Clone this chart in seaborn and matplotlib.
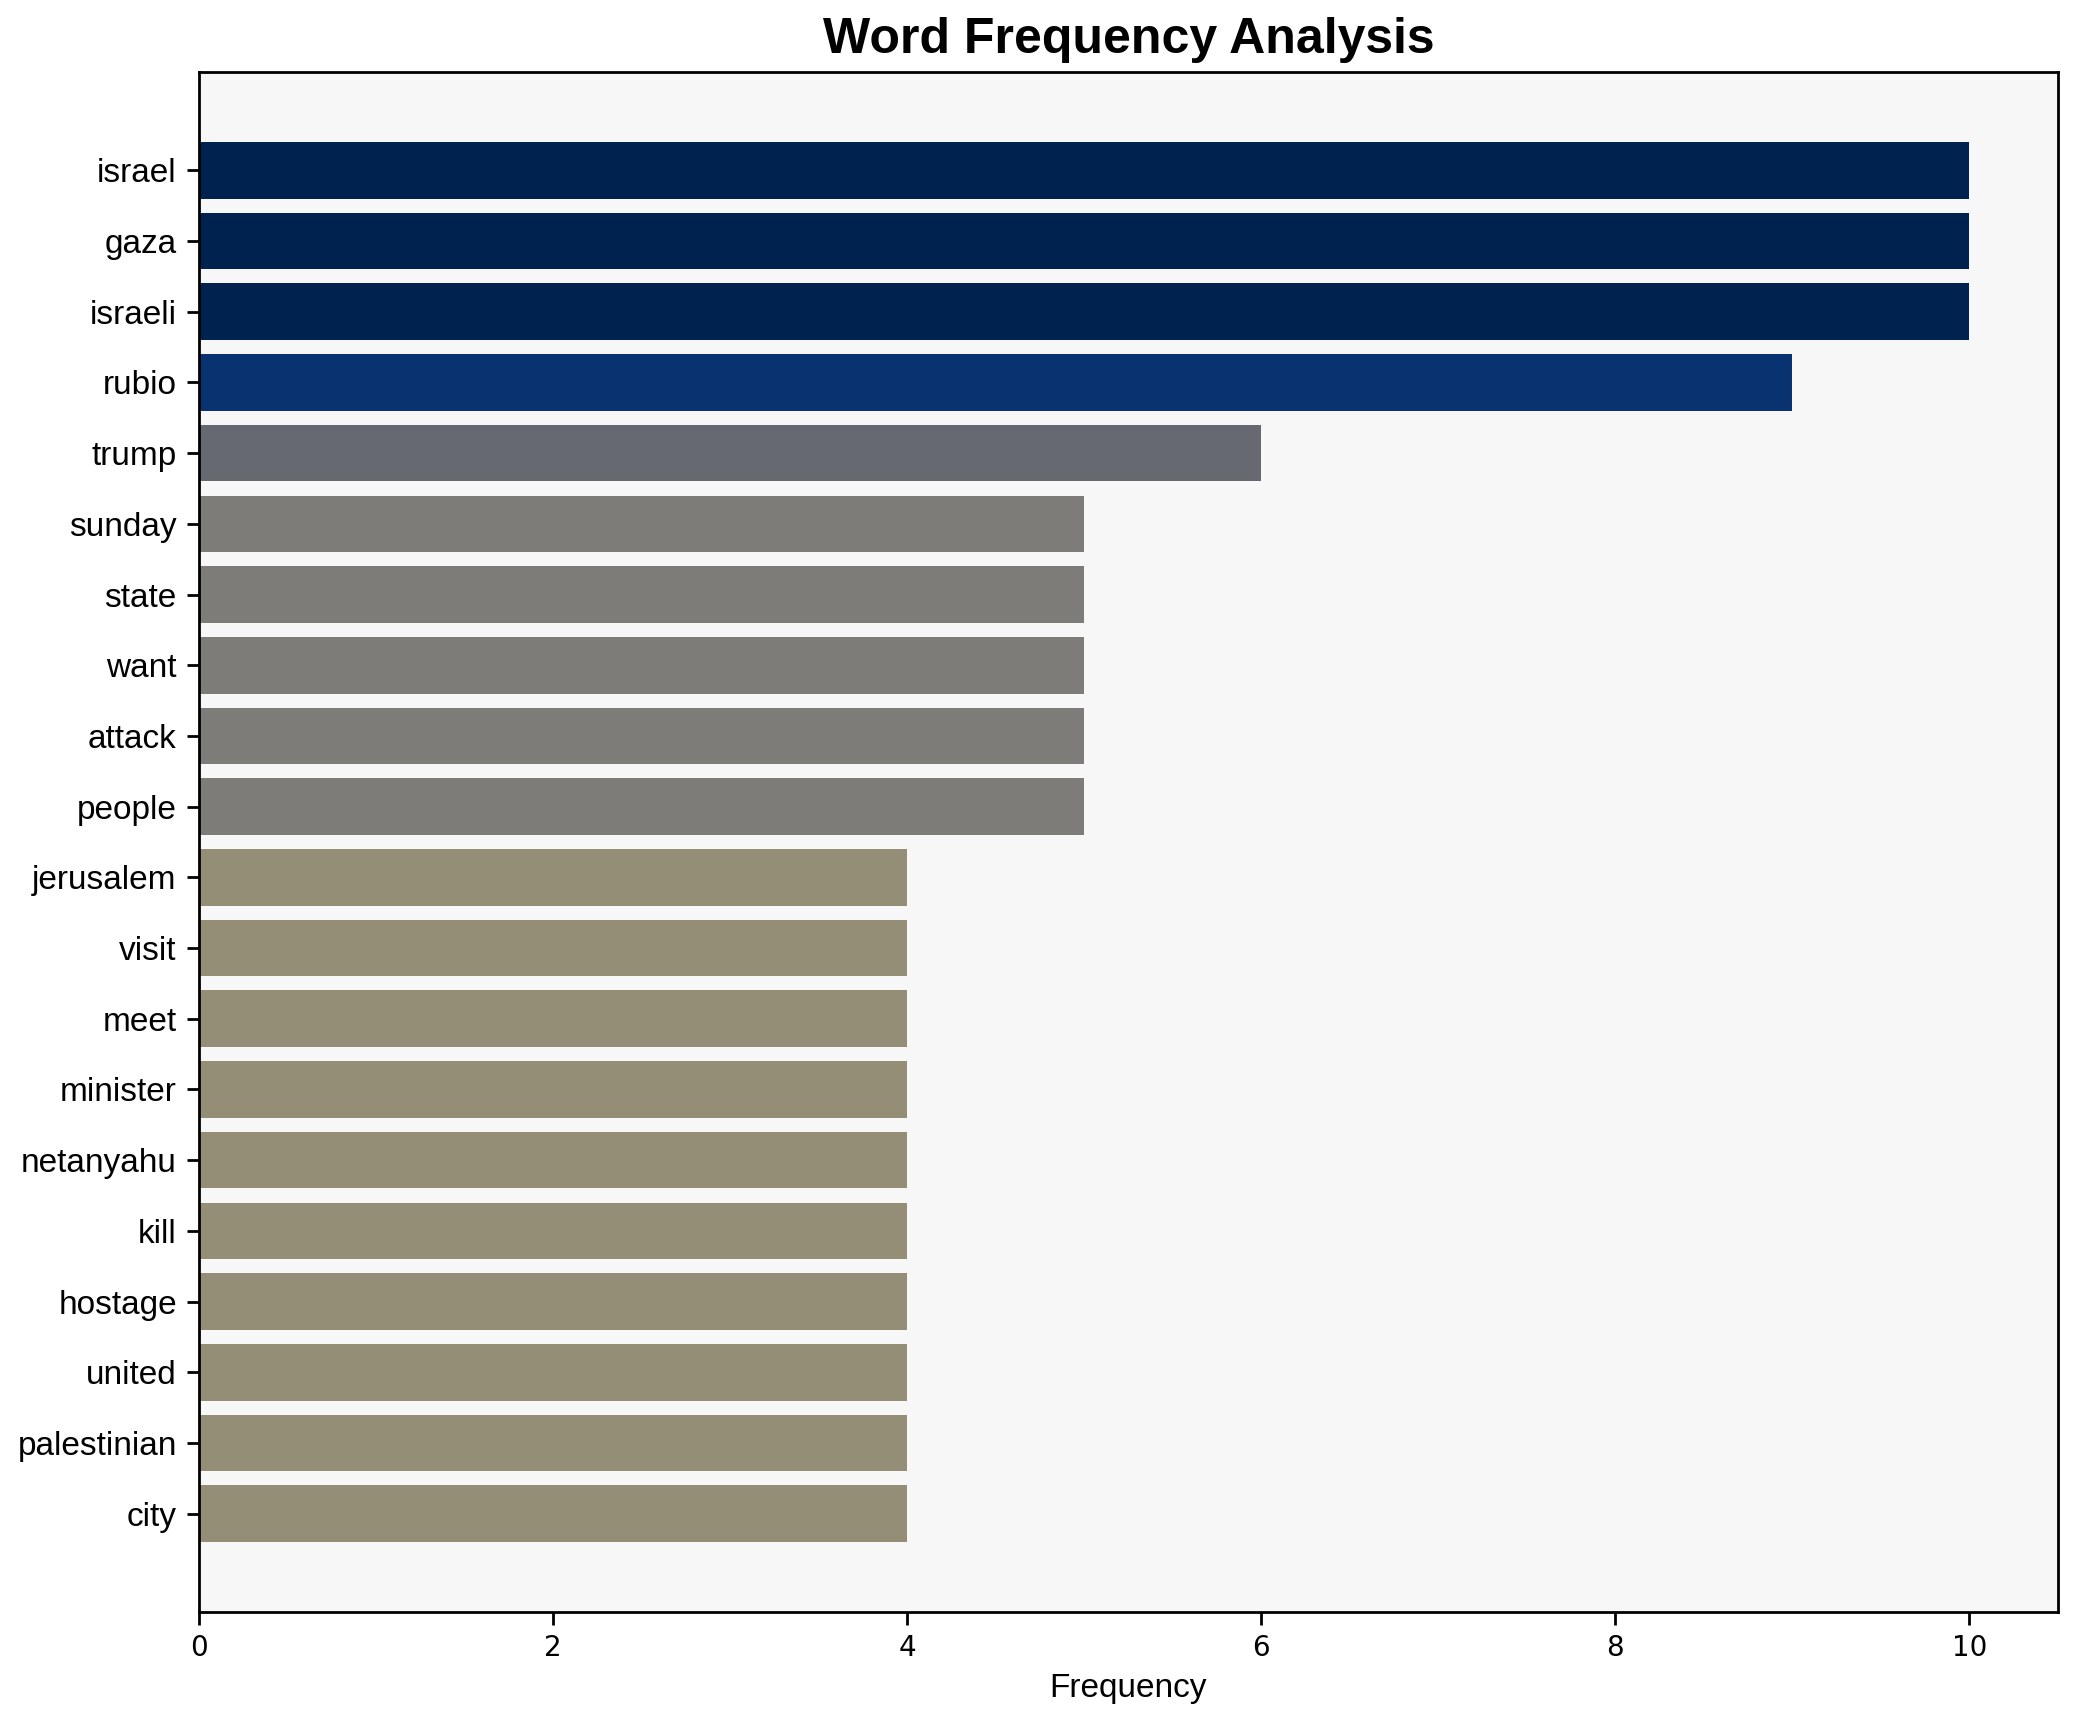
import numpy as np
import pandas as pd
import matplotlib
matplotlib.use("Agg")
import matplotlib.pyplot as plt
import seaborn as sns

words = ["israel", "gaza", "israeli", "rubio", "trump", "sunday", "state", "want",
         "attack", "people", "jerusalem", "visit", "meet", "minister", "netanyahu",
         "kill", "hostage", "united", "palestinian", "city"]
freqs = [10, 10, 10, 9, 6, 5, 5, 5, 5, 5, 4, 4, 4, 4, 4, 4, 4, 4, 4, 4]

df = pd.DataFrame({"word": words, "freq": freqs})

sns.set_style("ticks", {"axes.facecolor": "#f7f7f7", "text.color": "black",
                        "xtick.color": "black", "ytick.color": "black",
                        "axes.labelcolor": "black", "axes.edgecolor": "black"})
plt.rcParams["font.family"] = ["DejaVu Sans"]

# darker colour for more frequent words
cmap = plt.cm.cividis
colors = [cmap(1 - f / max(freqs)) for f in freqs]

fig = plt.figure(figsize=(2078 / 200, 1722 / 200), dpi=200)
ax = fig.add_axes([199 / 2078, 110 / 1722, (2058 - 199) / 2078, (1650 - 110) / 1722])

sns.barplot(data=df, x="freq", y="word", hue="word", palette=colors, orient="h",
            width=0.8, legend=False, ax=ax, saturation=1, linewidth=0)

n = len(words)
pad = 0.05 * (n - 1 + 0.8)
ax.set_ylim(n - 1 + 0.4 + pad, -0.4 - pad)
ax.set_xlim(0, max(freqs) * 1.05)

for s in ax.spines.values():
    s.set_visible(True)
    s.set_color("black")
    s.set_linewidth(1.0)

ax.set_yticks(range(n))
ax.set_yticklabels(words, fontsize=12, family="Liberation Sans", color="black")
ax.tick_params(axis="x", labelsize=10, labelcolor="black")
ax.tick_params(axis="both", length=4.5, width=1.0, color="black")
ax.set_ylabel("")
ax.set_xlabel("Frequency", fontsize=12, family="Liberation Sans", color="black")
ax.set_title("Word Frequency Analysis", fontsize=18, fontweight="bold",
             family="Liberation Sans", color="black", pad=7)

fig.savefig("out.png", dpi=200)
